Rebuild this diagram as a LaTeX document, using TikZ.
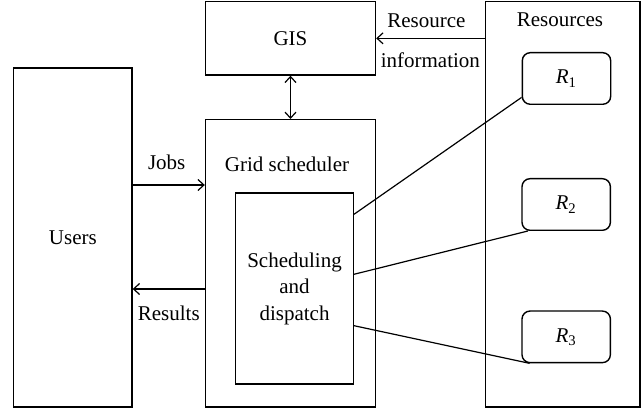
\documentclass[tikz,border=0pt]{standalone}
\usepackage{fontspec}
\setmainfont{Liberation Serif}
\usetikzlibrary{arrows.meta}

\begin{document}
\begin{tikzpicture}[x=0.5pt,y=-0.5pt,font=\fontsize{10.5}{13.25}\selectfont,
        box/.style={draw=black,line width=0.7pt,inner sep=0pt},
        resbox/.style={box,rounded corners=4pt,minimum width=44.2pt,minimum height=25.8pt},
        arr/.style={line width=0.6pt,-{Straight Barb[length=3pt,width=5.5pt]}},
        dbl/.style={line width=0.6pt,{Straight Barb[length=3pt,width=5.5pt]}-{Straight Barb[length=3pt,width=5.5pt]}},
        link/.style={line width=0.6pt}]
        \useasboundingbox (0,0) rectangle (644,411);

        \node[box,minimum width=59.15pt,minimum height=169.5pt] (users) at (72.85,237.5) {Users};
        \node[box,minimum width=85pt,minimum height=36.65pt] (gis) at (290.5,38.35) {GIS};
        \node[box,minimum width=85pt,minimum height=143.65pt] (grid) at (290.5,263.35) {};
        \node[box,minimum width=58.8pt,minimum height=95.5pt,align=center] (sched) at (294.5,288.5) {Scheduling\\and\\dispatch};
        \node[box,minimum width=77.35pt,minimum height=202.65pt] (pool) at (562.65,204.35) {};
        \node[resbox] (r1) at (566.5,78.5) {\textit{R}\textsubscript{1}};
        \node[resbox] (r2) at (566.2,204.5) {\textit{R}\textsubscript{2}};
        \node[resbox] (r3) at (566.2,336.85) {\textit{R}\textsubscript{3}};
        \node (gridname) at (287,164) {Grid scheduler};
        \node (poolname) at (560,20) {Resources};

        \coordinate (jobs) at ([yshift=26.25pt]users.east);
        \coordinate (back) at ([yshift=-25.75pt]users.east);

        \path [arr] (gis.east -| pool.west) edge node[above=1.5pt,xshift=-2pt] {Resource} node[below=3.5pt] {information} (gis.east);
        \path [dbl] (gis) edge (grid);
        \path [arr] (jobs) edge node[above=4pt,xshift=-1pt] {Jobs} (jobs -| grid.west);
        \path [arr] (back -| grid.west) edge node[below=5pt] {Results} (back);
        \path [link] ([yshift=37.1pt]sched.east) edge ([yshift=3.8pt]r1.south west);
        \path [link] ([yshift=7.1pt]sched.east) edge ([xshift=3.3pt]r2.south west);
        \path [link] ([yshift=-18.6pt]sched.east) edge ([xshift=4.15pt]r3.south west);
    \end{tikzpicture}
\end{document}
